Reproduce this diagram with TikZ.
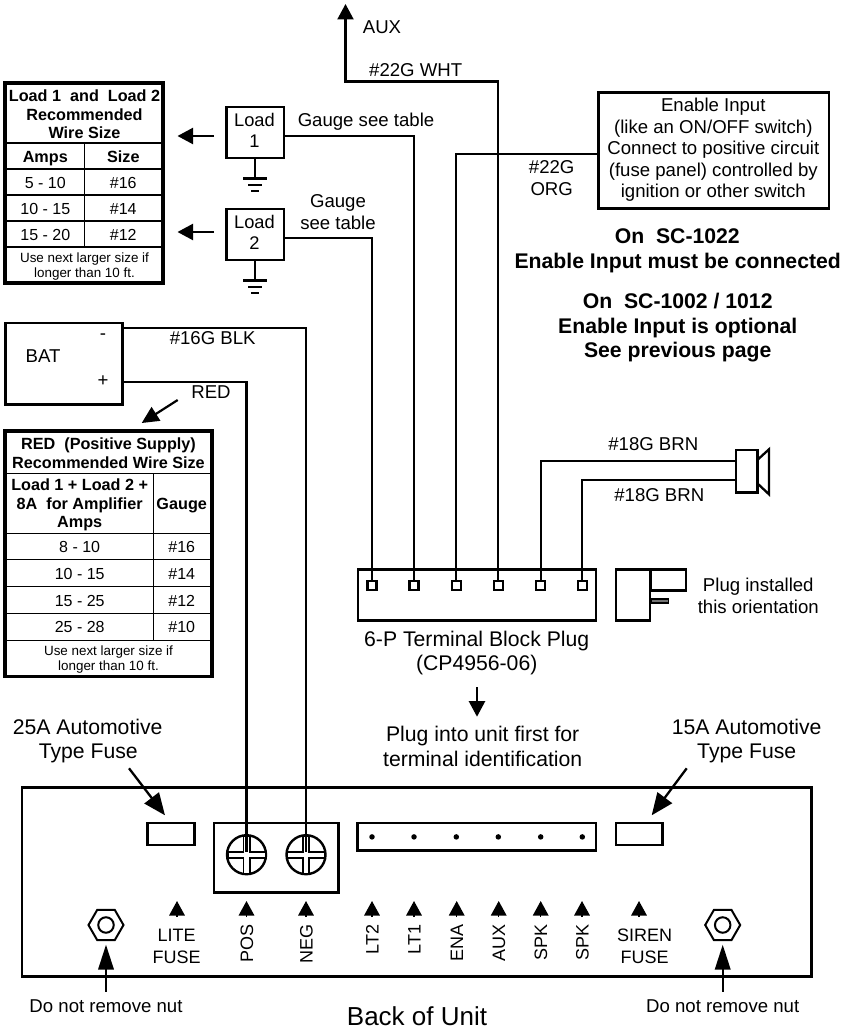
\documentclass[tikz,border=0pt]{standalone}
\usepackage{fontspec}
\setmainfont{Liberation Sans}
\usetikzlibrary{positioning, arrows.meta, shapes.geometric}

\newcommand{\fsz}[1]{\fontsize{#1}{#1}\selectfont}

\begin{document}
\begin{tikzpicture}[x=1pt, y=-1pt, line join=miter,
wire/.style={line width=2.3pt},
box/.style={rectangle, draw, line width=2.6pt, inner sep=0pt, fill=white},
tablebox/.style={rectangle, draw, line width=3.3pt, inner sep=0pt},
rule/.style={line width=1.1pt},
txt/.style={inner sep=0pt, align=center, font=\fsz{18.6}, text height=13.4pt, text depth=0pt},
bigtxt/.style={txt, font=\fsz{21.2}, text height=15.2pt},
boldtxt/.style={txt, font=\bfseries\fsz{21.2}, text height=15.2pt},
headtxt/.style={txt, font=\bfseries\fsz{16.2}, text height=11.6pt},
celltxt/.style={txt, font=\fsz{16}, text height=11.5pt},
notetxt/.style={txt, font=\fsz{13.4}, text height=9.6pt},
sidetxt/.style={txt, font=\fsz{18}, rotate=90, anchor=east, text height=13pt},
pointer/.style={line width=2.2pt, -{Stealth[length=15.5pt, width=16pt, inset=0pt]}},
bigpointer/.style={line width=2.3pt, -{Stealth[length=22pt, width=18pt, inset=0pt]}},
tinypointer/.style={line width=1.5pt, -{Stealth[length=14.5pt, width=15.5pt, inset=0pt]}},
pin/.style={rectangle, draw, line width=2.3pt, minimum size=9pt, inner sep=0pt, fill=white},
hole/.style={circle, fill, minimum size=5.5pt, inner sep=0pt},
nut/.style={regular polygon, regular polygon sides=6, draw, line width=2pt, minimum size=35pt, inner sep=0pt},
screw/.style={circle, draw, line width=2.4pt, minimum size=39pt, inner sep=0pt, fill=white}
]
\useasboundingbox (0,0) rectangle (850,1030);

% back of unit
\node[box, minimum width=789.7pt, minimum height=189pt] (unit) at (416.85,881.8) {};
\node[box, minimum width=46.6pt, minimum height=22pt] (fuselite) at (171,834) {};
\node[box, minimum width=46.3pt, minimum height=22pt] (fusesiren) at (639.2,834) {};
\node[box, minimum width=124.3pt, minimum height=69.7pt] (lugs) at (276.2,857.9) {};
\node[box, minimum width=238.3pt, minimum height=27.7pt] (strip) at (476.9,836.9) {};
\node[screw] (pos) at (246.5,854.7) {};
\node[screw] (neg) at (306,854.7) {};
\foreach \s in {pos,neg}{
  \draw[line width=8pt] ([xshift=-19pt]\s.center) -- ([xshift=19pt]\s.center) ([yshift=-19pt]\s.center) -- ([yshift=19pt]\s.center);
  \draw[white, line width=4.4pt] ([xshift=-18pt]\s.center) -- ([xshift=18pt]\s.center) ([yshift=-18pt]\s.center) -- ([yshift=18pt]\s.center);
}

% plug
\node[box, minimum width=238pt, minimum height=51.4pt] (plug) at (477,595) {};
\foreach \n/\x in {1/372,2/414,3/456.3,4/498.3,5/540.7,6/582.3}{
  \node[pin] (t\n) at (\x,585.7) {};
  \node[hole] (h\n) at (\x,836.9) {};
}
\node[box, minimum width=34pt, minimum height=51.4pt] (side) at (633,595) {};
\node[box, minimum width=35pt, minimum height=21.4pt] (tab) at (668.5,580) {};
\node[rectangle, draw, fill=black!55, line width=1.6pt, minimum width=17pt, minimum height=4pt, inner sep=0pt] (prong) at (660,601) {};
\node[txt] (orienta) at (758.3,585) {Plug installed};
\node[txt] (orientb) at (758.3,606.7) {this orientation};
\node[bigtxt] (plugname) at (476.7,639) {6-P Terminal Block Plug};
\node[bigtxt] (plugcode) at (476.7,663.3) {(CP4956-06)};
\node[bigtxt] (plugfirsta) at (482.7,734.3) {Plug into unit first for};
\node[bigtxt] (plugfirstb) at (482.7,759) {terminal identification};
\coordinate (plugdown) at (477,687.3);
\coordinate (plugtip) at (477,716.7);
\draw[pointer] (plugdown) -- (plugtip);

% loads
\node[box, minimum width=57.6pt, minimum height=51pt] (loadone) at (255,132.5) {};
\node[txt, font=\fsz{18.3}] (loadonea) at (254.5,119.7) {Load};
\node[txt, font=\fsz{18.3}] (loadoneb) at (254.5,140.7) {1};
\node[box, minimum width=57.6pt, minimum height=51pt] (loadtwo) at (255,234.5) {};
\node[txt, font=\fsz{18.3}] (loadtwoa) at (254.5,221.7) {Load};
\node[txt, font=\fsz{18.3}] (loadtwob) at (254.5,242.7) {2};
\foreach \l/\y in {loadone/178.5,loadtwo/280.5}{
  \coordinate (\l g) at (255,\y);
  \draw[wire] (\l.south) -- (\l g);
  \draw[wire] (243,\y) -- (267,\y);
  \draw[wire] (248,\y+6.3) -- (262,\y+6.3);
  \draw[wire] (251,\y+12.6) -- (258.5,\y+12.6);
}
\coordinate (arrowone) at (214,136);
\coordinate (tipone) at (177.5,136);
\coordinate (arrowtwo) at (214,232);
\coordinate (tiptwo) at (177.5,232);
\draw[pointer] (arrowone) -- (tipone);
\draw[pointer] (arrowtwo) -- (tiptwo);
\draw[wire] ([yshift=-3.5pt]loadone.east) -| (t2.north);
\draw[wire] ([yshift=-3.5pt]loadtwo.east) -| (t1.north);
\node[txt] (gaugeone) at (366,120.3) {Gauge see table};
\node[txt] (gaugetwoa) at (338,201) {Gauge};
\node[txt] (gaugetwob) at (338,222.7) {see table};

% aux and enable
\coordinate (auxtip) at (345.5,4);
\coordinate (auxturn) at (345.5,81.5);
\draw[wire, -{Stealth[length=15.5pt, width=16pt, inset=0pt]}] (t4.north) |- (auxturn) -- (auxtip);
\node[txt] (auxname) at (382,26.7) {AUX};
\node[txt] (whtname) at (415.7,69.5) {\#22G WHT};
\node[box, minimum width=230.7pt, minimum height=115.6pt] (enable) at (713.65,150.5) {};
\foreach \n/\y/\t in {a/105/{Enable Input},b/127/{(like an ON/OFF switch)},c/148/{Connect to positive circuit},d/170/{(fuse panel) controlled by},e/191/{ignition or other switch}}{
  \node[txt] (enable\n) at (713.3,\y) {\t};
}
\draw[wire] ([yshift=-3.5pt]enable.west) -| (t3.north);
\node[txt] (orga) at (551.7,166.7) {\#22G};
\node[txt] (orgb) at (551.7,188.7) {ORG};
\node[boldtxt] (notea) at (677.3,235.7) {On\ \ SC-1022};
\node[boldtxt] (noteb) at (677.7,260.7) {Enable Input must be connected};
\node[boldtxt] (notec) at (677.7,300.7) {On\ \ SC-1002 / 1012};
\node[boldtxt] (noted) at (677.7,325.7) {Enable Input is optional};
\node[boldtxt] (notee) at (677.7,350) {See previous page};

% speaker
\node[box, minimum width=21.3pt, minimum height=42.7pt] (speaker) at (746.7,471.3) {};
\coordinate (cone) at (757.3,460);
\draw[wire] (cone) -- (769,449.3) -- (769,494.3) -- (757.3,483.3);
\draw[wire] ([yshift=10.3pt]speaker.west) -| (t5.north);
\draw[wire] ([yshift=-8.4pt]speaker.west) -| (t6.north);
\node[txt] (brna) at (653.3,443.3) {\#18G BRN};
\node[txt] (brnb) at (659.3,494.7) {\#18G BRN};

% battery
\node[box, minimum width=117pt, minimum height=81.3pt] (bat) at (64,363.7) {};
\node[txt] (batname) at (43,356) {BAT};
\node[txt] (batneg) at (103,333) {-};
\node[txt] (batpos) at (103,380) {+};
\draw[wire] ([yshift=35.7pt]bat.east) -| ([yshift=3pt]neg.center);
\draw[wire] ([yshift=-18pt]bat.east) -| ([yshift=3pt]pos.center);
\node[txt] (blkname) at (212.7,338) {\#16G BLK};
\node[txt] (redname) at (211,392) {RED};
\coordinate (redfrom) at (177.7,400);
\coordinate (redtip) at (141.7,423);
\draw[line width=2.2pt, -{Stealth[length=17pt, width=16pt, inset=0pt]}] (redfrom) -- (redtip);

% load wire size table
\node[tablebox, minimum width=158pt, minimum height=200pt] (loadtable) at (84,183) {};
\node[headtxt] (lhead) at (84.5,95.7) {Load 1\ \ and\ \ Load 2};
\node[headtxt] (lheadb) at (84.5,114.7) {Recommended};
\node[headtxt] (lheadc) at (84.5,132.7) {Wire Size};
\node[headtxt] (lamps) at (45.3,156.7) {Amps};
\node[headtxt] (lsize) at (123.3,156.7) {Size};
\draw[rule] (6,143) -- (162,143) (6,169) -- (162,169) (6,195) -- (162,195) (6,221) -- (162,221) (6,247) -- (162,247) (84.7,143) -- (84.7,247);
\foreach \n/\y/\a/\g in {a/182.7/5 - 10/\#16,b/208.7/10 - 15/\#14,c/234.7/15 - 20/\#12}{
  \node[celltxt] (lamps\n) at (45.3,\y) {\a};
  \node[celltxt] (lsize\n) at (123.3,\y) {\g};
}
\node[notetxt] (lnote) at (84.5,257.7) {Use next larger size if};
\node[notetxt] (lnoteb) at (84.5,272.7) {longer than 10 ft.};

% red wire size table
\node[tablebox, minimum width=207pt, minimum height=245.7pt] (redtable) at (108.5,553.85) {};
\node[headtxt] (rhead) at (108.5,443.7) {RED\ \ (Positive Supply)};
\node[headtxt] (rheadb) at (108.5,462.7) {Recommended Wire Size};
\node[headtxt] (ramps) at (79.7,485) {Load 1 + Load 2 +};
\node[headtxt] (rampsb) at (79.7,503.3) {8A\ \ for Amplifier};
\node[headtxt] (rampsc) at (79.7,521.7) {Amps};
\node[headtxt] (rgauge) at (181.7,503.7) {Gauge};
\draw[rule] (6,473.7) -- (211,473.7) (6,533.3) -- (211,533.3) (6,559.3) -- (211,559.3) (6,586.3) -- (211,586.3) (6,613.3) -- (211,613.3) (6,640.3) -- (211,640.3) (153.3,473.7) -- (153.3,640.3);
\foreach \n/\y/\a/\g in {a/546.7/8 - 10/\#16,b/573.7/10 - 15/\#14,c/600.7/15 - 25/\#12,d/626.7/25 - 28/\#10}{
  \node[celltxt] (ramps\n) at (79.7,\y) {\a};
  \node[celltxt] (rsize\n) at (181.7,\y) {\g};
}
\node[notetxt] (rnote) at (108.5,650.7) {Use next larger size if};
\node[notetxt] (rnoteb) at (108.5,665.3) {longer than 10 ft.};

% fuses
\node[bigtxt] (litea) at (87.7,726.7) {25A Automotive};
\node[bigtxt] (liteb) at (88.3,750.7) {Type Fuse};
\node[bigtxt] (sirena) at (746.7,726.7) {15A Automotive};
\node[bigtxt] (sirenb) at (746.7,750.7) {Type Fuse};
\coordinate (litefrom) at (129,768.3);
\coordinate (litetip) at (165,815.3);
\coordinate (sirenfrom) at (686.7,768.3);
\coordinate (sirentip) at (651.7,815.3);
\draw[bigpointer] (litefrom) -- (litetip);
\draw[bigpointer] (sirenfrom) -- (sirentip);

% terminal names
\foreach \n/\x in {lite/177,lpos/246.5,lneg/306,ltb/372,lta/414,ena/456.7,aux/498.7,spa/540.7,spb/582,siren/639}{
  \coordinate (\n foot) at (\x,917);
  \coordinate (\n tip) at (\x,901);
  \draw[tinypointer] (\n foot) -- (\n tip);
}
\foreach \n/\x/\t in {pos/246.5/POS,neg/306/NEG,ltb/372/LT2,lta/414/LT1,ena/456.7/ENA,aux/498.7/AUX,spa/540.7/SPK,spb/582/SPK}{
  \node[sidetxt] (name\n) at (\x,924.3) {\t};
}
\node[txt, font=\fsz{18}] (litename) at (176.7,934.3) {LITE};
\node[txt, font=\fsz{18}] (litenameb) at (176.7,956.7) {FUSE};
\node[txt, font=\fsz{18}] (sirenname) at (644.7,934.3) {SIREN};
\node[txt, font=\fsz{18}] (sirennameb) at (644.7,956.7) {FUSE};

% nuts
\foreach \n/\x in {a/106,b/722.7}{
  \node[nut] (nut\n) at (\x,925) {};
  \node[circle, draw, line width=2pt, minimum size=15.5pt, inner sep=0pt] (nuthole\n) at (\x,925) {};
  \coordinate (nutfrom\n) at (\x,991.7);
  \coordinate (nuttip\n) at (\x,944.7);
  \draw[line width=2.2pt, -{Stealth[length=25pt, width=15.5pt, inset=0pt]}] (nutfrom\n) -- (nuttip\n);
  \node[txt] (nutnote\n) at (\x,1006) {Do not remove nut};
}
\node[txt, font=\fsz{26}, text height=18.7pt] (backname) at (417,1016.5) {Back of Unit};
\end{tikzpicture}
\end{document}
